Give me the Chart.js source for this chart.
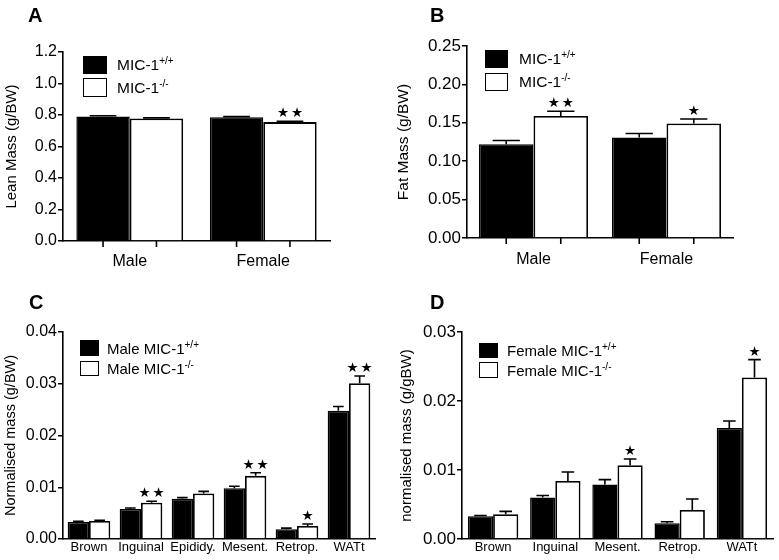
<!DOCTYPE html>
<html lang="en">
<head>
  <meta charset="UTF-8">
  <title>MIC-1 body composition</title>
  <script src="https://cdn.jsdelivr.net/npm/chart.js"></script>
  <style>
    body {
      margin: 0;
      background: #fff;
      font-family: 'Liberation Sans', Arial, Helvetica, sans-serif;
      color: #000;
    }
    .page { position: relative; width: 779px; height: 560px; }
    canvas { position: absolute; }
    .letter {
      position: absolute;
      font-size: 20px;
      line-height: 20px;
      font-weight: bold;
    }
    .legend { position: absolute; }
    .row { display: flex; align-items: center; }
    .box { box-sizing: border-box; border: 1.5px solid #000; }
    .box.ko { background: #fff; }
    .box.wt { background: #000; }
    .row span { white-space: nowrap; line-height: 1; }
    .row sup { font-size: 10px; vertical-align: 6px; line-height: 0; }
  </style>
</head>
<body>
<div class="page">
  <canvas id="chartA" width="390" height="280" style="left:0;top:0"></canvas>
  <canvas id="chartB" width="389" height="280" style="left:390px;top:0"></canvas>
  <canvas id="chartC" width="390" height="280" style="left:0;top:280px"></canvas>
  <canvas id="chartD" width="389" height="280" style="left:390px;top:280px"></canvas>

  <div class="letter" style="left:28px;top:5px">A</div>
  <div class="letter" style="left:430px;top:5px">B</div>
  <div class="letter" style="left:29px;top:292px">C</div>
  <div class="letter" style="left:430px;top:292px">D</div>

  <div class="legend" style="left:83px;top:56px;font-size:15.5px">
    <div class="row" style="height:18px;margin-bottom:4px"><div class="box wt" style="width:24px;height:18px"></div><span style="margin-left:10px">MIC-1<sup>+/+</sup></span></div>
    <div class="row" style="height:19px"><div class="box ko" style="width:24px;height:19px"></div><span style="margin-left:10px">MIC-1<sup>-/-</sup></span></div>
  </div>
  <div class="legend" style="left:485px;top:50px;font-size:15.5px">
    <div class="row" style="height:18px;margin-bottom:5px"><div class="box wt" style="width:23px;height:18px"></div><span style="margin-left:11px">MIC-1<sup>+/+</sup></span></div>
    <div class="row" style="height:18px"><div class="box ko" style="width:23px;height:18px"></div><span style="margin-left:11px">MIC-1<sup>-/-</sup></span></div>
  </div>
  <div class="legend" style="left:80px;top:340px;font-size:15px">
    <div class="row" style="height:16px;margin-bottom:5px"><div class="box wt" style="width:19px;height:16px"></div><span style="margin-left:8px">Male MIC-1<sup>+/+</sup></span></div>
    <div class="row" style="height:15px"><div class="box ko" style="width:19px;height:15px"></div><span style="margin-left:8px">Male MIC-1<sup>-/-</sup></span></div>
  </div>
  <div class="legend" style="left:479px;top:343px;font-size:15px">
    <div class="row" style="height:15px;margin-bottom:4px"><div class="box wt" style="width:19px;height:15px"></div><span style="margin-left:9px">Female MIC-1<sup>+/+</sup></span></div>
    <div class="row" style="height:16px"><div class="box ko" style="width:19px;height:16px"></div><span style="margin-left:9px">Female MIC-1<sup>-/-</sup></span></div>
  </div>
</div>

<script>
  // ---- data ----
  const sexes = ['Male', 'Female'];

  const leanWT = [0.790, 0.785];
  const leanWTErr = [0.005, 0.005];
  const leanKO = [0.778, 0.755];
  const leanKOErr = [0.004, 0.005];
  const leanStars = [0, 2];
  const leanTicks = ['0.0', '0.2', '0.4', '0.6', '0.8', '1.0', '1.2'];

  const fatWT = [0.122, 0.131];
  const fatWTErr = [0.005, 0.005];
  const fatKO = [0.159, 0.149];
  const fatKOErr = [0.006, 0.006];
  const fatStars = [2, 1];
  const fatTicks = ['0.00', '0.05', '0.10', '0.15', '0.20', '0.25'];

  const maleDepots = ['Brown', 'Inguinal', 'Epididy.', 'Mesent.', 'Retrop.', 'WATt'];
  const maleWT = [0.0033, 0.0058, 0.0078, 0.0098, 0.0019, 0.0248];
  const maleWTErr = [0.0001, 0.0002, 0.0002, 0.0004, 0.0002, 0.0008];
  const maleKO = [0.0035, 0.0070, 0.0088, 0.0122, 0.0025, 0.0301];
  const maleKOErr = [0.0001, 0.0003, 0.0004, 0.0006, 0.0004, 0.0014];
  const maleStars = [0, 2, 0, 2, 1, 2];
  const maleTicks = ['0.00', '0.01', '0.02', '0.03', '0.04'];

  const femaleDepots = ['Brown', 'Inguinal', 'Mesent.', 'Retrop.', 'WATt'];
  const femaleWT = [0.0033, 0.0060, 0.0079, 0.0023, 0.0161];
  const femaleWTErr = [0.0001, 0.0003, 0.0007, 0.0002, 0.0010];
  const femaleKO = [0.0036, 0.0084, 0.0107, 0.0042, 0.0234];
  const femaleKOErr = [0.0004, 0.0013, 0.0009, 0.0016, 0.0026];
  const femaleStars = [0, 0, 1, 0, 1];
  const femaleTicks = ['0.00', '0.01', '0.02', '0.03'];

  const FONT = "'Liberation Sans', Arial, Helvetica, sans-serif";

  // error bars (upwards only), significance stars, and x tick marks under bars
  const errPlugin = {
    id: 'errbars',
    afterDatasetsDraw(chart, args, opts) {
      const ctx = chart.ctx;
      const yScale = chart.scales.y;
      ctx.save();
      ctx.strokeStyle = '#000';
      ctx.fillStyle = '#000';
      ctx.lineWidth = 1.6;
      chart.data.datasets.forEach((ds, i) => {
        const meta = chart.getDatasetMeta(i);
        meta.data.forEach((bar, j) => {
          const top = yScale.getPixelForValue(ds.data[j] + opts.errors[i][j]);
          const half = bar.width / 4;
          ctx.beginPath();
          ctx.moveTo(bar.x, bar.y);
          ctx.lineTo(bar.x, top);
          ctx.moveTo(bar.x - half, top);
          ctx.lineTo(bar.x + half, top);
          ctx.stroke();

          if (opts.xTicks) {
            const b = chart.chartArea.bottom;
            ctx.beginPath();
            ctx.moveTo(bar.x, b);
            ctx.lineTo(bar.x, b + 6);
            ctx.stroke();
          }

          const n = i === 1 ? opts.stars[j] : 0;
          if (n > 0) {
            ctx.font = opts.starSize + 'px DejaVu Sans';
            ctx.textAlign = 'center';
            ctx.textBaseline = 'alphabetic';
            const sy = top - 4;
            if (n === 1) {
              ctx.fillText('★', bar.x, sy);
            } else {
              ctx.fillText('★', bar.x - 7, sy);
              ctx.fillText('★', bar.x + 7, sy);
            }
          }
        });
      });
      ctx.restore();
    }
  };

  function makePanel(id, p) {
    const ctx = document.getElementById(id).getContext('2d');
    return new Chart(ctx, {
      type: 'bar',
      data: {
        labels: p.labels,
        datasets: [
          {
            label: 'wt',
            data: p.wt,
            backgroundColor: '#000',
            borderColor: '#000',
            borderWidth: 1.5,
            categoryPercentage: p.catPct,
            barPercentage: 1.0
          },
          {
            label: 'ko',
            data: p.ko,
            backgroundColor: '#fff',
            borderColor: '#000',
            borderWidth: 1.8,
            borderSkipped: 'bottom',
            categoryPercentage: p.catPct,
            barPercentage: 1.0
          }
        ]
      },
      options: {
        responsive: false,
        animation: false,
        events: [],
        layout: { padding: { top: p.top, right: p.right, left: 0, bottom: 0 } },
        plugins: {
          legend: { display: false },
          tooltip: { enabled: false },
          errbars: {
            errors: [p.wtErr, p.koErr],
            stars: p.stars,
            xTicks: p.xTicks,
            starSize: 13.5
          }
        },
        scales: {
          x: {
            grid: { display: false, drawTicks: false },
            border: { display: true, color: '#000', width: 1.6 },
            ticks: {
              color: '#000',
              padding: p.xPad,
              maxRotation: 0,
              autoSkip: false,
              font: { family: FONT, size: p.xFont }
            },
            afterFit: (s) => { s.height = p.xHeight; }
          },
          y: {
            min: 0,
            max: parseFloat(p.ticks[p.ticks.length - 1]),
            afterBuildTicks: (s) => {
              s.ticks = p.ticks.map(t => ({ value: parseFloat(t) }));
            },
            grid: {
              drawOnChartArea: false,
              drawTicks: true,
              tickLength: 5,
              color: '#000',
              lineWidth: 1.5
            },
            border: { display: true, color: '#000', width: 1.6 },
            ticks: {
              color: '#000',
              padding: 1,
              font: { family: FONT, size: p.yFont },
              callback: (v, i) => p.ticks[i]
            },
            title: {
              display: true,
              text: p.yTitle,
              color: '#000',
              padding: { top: p.titlePad, bottom: 0 },
              font: { family: FONT, size: p.titleFont }
            },
            afterFit: (s) => { s.width = p.yWidth; }
          }
        }
      },
      plugins: [errPlugin]
    });
  }

  makePanel('chartA', {
    labels: sexes, wt: leanWT, ko: leanKO, wtErr: leanWTErr, koErr: leanKOErr,
    stars: leanStars, ticks: leanTicks, yTitle: 'Lean Mass (g/BW)',
    top: 52, right: 60, yWidth: 63, xHeight: 39, catPct: 0.8,
    xTicks: true, xPad: 11, xFont: 16, yFont: 16, titleFont: 15, titlePad: 3
  });

  makePanel('chartB', {
    labels: sexes, wt: fatWT, ko: fatKO, wtErr: fatWTErr, koErr: fatKOErr,
    stars: fatStars, ticks: fatTicks, yTitle: 'Fat Mass (g/BW)',
    top: 46, right: 46, yWidth: 77, xHeight: 42, catPct: 0.82,
    xTicks: true, xPad: 12, xFont: 16, yFont: 17, titleFont: 15.5, titlePad: 4
  });

  makePanel('chartC', {
    labels: maleDepots, wt: maleWT, ko: maleKO, wtErr: maleWTErr, koErr: maleKOErr,
    stars: maleStars, ticks: maleTicks, yTitle: 'Normalised mass (g/BW)',
    top: 52, right: 15, yWidth: 63, xHeight: 21, catPct: 0.82,
    xTicks: false, xPad: 1, xFont: 13, yFont: 16, titleFont: 14.5, titlePad: 2
  });

  makePanel('chartD', {
    labels: femaleDepots, wt: femaleWT, ko: femaleKO, wtErr: femaleWTErr, koErr: femaleKOErr,
    stars: femaleStars, ticks: femaleTicks, yTitle: 'normalised mass (g/gBW)',
    top: 52, right: 6, yWidth: 72, xHeight: 21, catPct: 0.81,
    xTicks: false, xPad: 1, xFont: 13, yFont: 17, titleFont: 15, titlePad: 8
  });
</script>
</body>
</html>
